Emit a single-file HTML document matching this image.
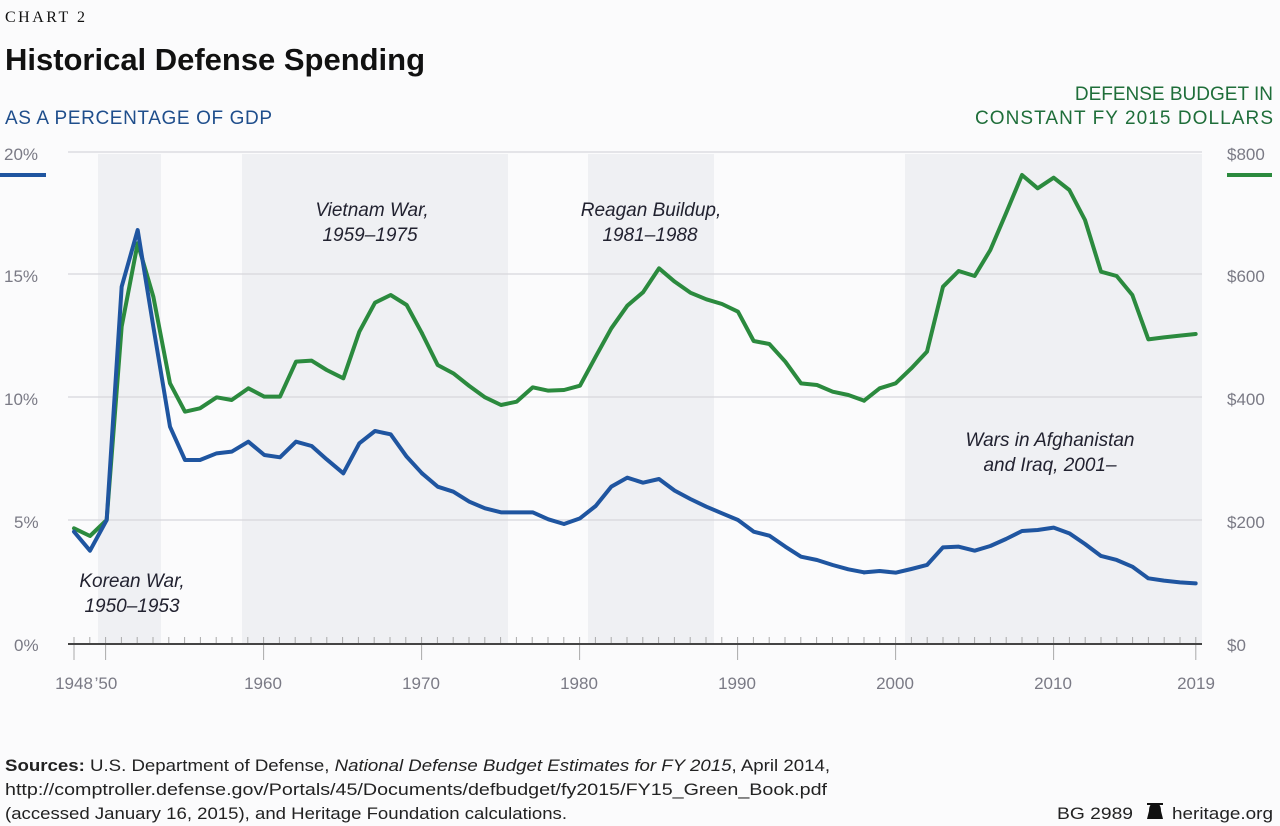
<!DOCTYPE html>
<html><head><meta charset="utf-8"><style>
html,body{margin:0;padding:0;background:#fbfbfc;}
svg{display:block}
</style></head><body>
<svg width="1280" height="826" viewBox="0 0 1280 826" xmlns="http://www.w3.org/2000/svg" font-family="Liberation Sans, sans-serif">
<rect width="1280" height="826" fill="#fbfbfc"/>
<g fill="#eff0f3">
<rect x="98" y="154" width="63" height="489"/>
<rect x="242" y="154" width="266" height="489"/>
<rect x="588" y="154" width="126" height="489"/>
<rect x="905" y="154" width="297" height="489"/>
</g>
<g stroke="#d6d7dc" stroke-width="1.3">
<line x1="68" y1="152" x2="1202" y2="152"/>
<line x1="68" y1="274" x2="1202" y2="274"/>
<line x1="68" y1="397" x2="1202" y2="397"/>
<line x1="68" y1="520" x2="1202" y2="520"/>
</g>
<g stroke="#aaa" stroke-width="1">
<path d="M74 637V643M89.8 637V643M105.6 637V643M121.4 637V643M137.2 637V643M153 637V643M168.8 637V643M184.6 637V643M200.4 637V643M216.2 637V643M232 637V643M247.8 637V643M263.6 637V643M279.4 637V643M295.2 637V643M311 637V643M326.8 637V643M342.6 637V643M358.4 637V643M374.2 637V643M390 637V643M405.8 637V643M421.6 637V643M437.4 637V643M453.2 637V643M469 637V643M484.8 637V643M500.6 637V643M516.4 637V643M532.2 637V643M548 637V643M563.8 637V643M579.6 637V643M595.4 637V643M611.2 637V643M627 637V643M642.8 637V643M658.6 637V643M674.4 637V643M690.2 637V643M706 637V643M721.8 637V643M737.6 637V643M753.4 637V643M769.2 637V643M785 637V643M800.8 637V643M816.6 637V643M832.4 637V643M848.2 637V643M864 637V643M879.8 637V643M895.6 637V643M911.4 637V643M927.2 637V643M943 637V643M958.8 637V643M974.6 637V643M990.4 637V643M1006.2 637V643M1022 637V643M1037.8 637V643M1053.6 637V643M1069.4 637V643M1085.2 637V643M1101 637V643M1116.8 637V643M1132.6 637V643M1148.4 637V643M1164.2 637V643M1180 637V643M1195.8 637V643"/>
<path d="M74 643V660M105.6 643V660M263.6 643V660M421.6 643V660M579.6 643V660M737.6 643V660M895.6 643V660M1053.6 643V660M1195.8 643V660"/>
</g>
<line x1="68" y1="644" x2="1202" y2="644" stroke="#444" stroke-width="2"/>
<g fill="none" stroke-width="12" stroke-linejoin="round" stroke-linecap="round">
<g transform="translate(0,140) scale(0.33333)">
<polyline stroke="#2b8a3e" points="222,1165 270,1188 320,1140 365,560 413,310 460,470 510,730 555,815 600,805 650,772 695,780 745,745 793,770 840,770 888,665 935,662 980,690 1030,715 1078,575 1125,488 1172,465 1220,495 1266,580"/>
<polyline stroke="#1f55a0" points="222,1175 270,1232 320,1140 365,440 413,270 460,560 510,860 555,960 600,960 650,940 695,935 745,905 793,945 840,952 888,905 935,918 980,958 1030,1000 1078,910 1125,873 1172,883 1220,950 1266,1000"/>
</g>
<g transform="translate(420,140) scale(0.33333)">
<polyline stroke="#2b8a3e" points="6,580 53,675 100,700 148,738 195,772 243,795 290,785 338,742 385,752 432,750 480,737 527,650 574,565 622,497 669,457 717,385 764,425 811,458 859,478 906,492 954,515 1001,603 1048,612 1096,665 1143,730 1191,735 1238,755 1285,765 1332,782"/>
<polyline stroke="#1f55a0" points="6,1000 53,1040 100,1055 148,1085 195,1105 243,1117 290,1117 338,1117 385,1138 432,1152 480,1135 527,1098 574,1040 622,1013 669,1028 717,1017 764,1052 811,1077 859,1100 906,1120 954,1140 1001,1175 1048,1187 1096,1220 1143,1250 1191,1260 1238,1275 1285,1288 1332,1297"/>
</g>
<g transform="translate(850,140) scale(0.33333)">
<polyline stroke="#2b8a3e" points="42,782 89,745 137,730 184,685 231,635 279,440 326,393 374,408 421,330 468,220 516,105 563,145 611,113 658,150 705,240 753,395 800,408 847,465 895,598 942,592 990,587 1037,582"/>
<polyline stroke="#1f55a0" points="42,1297 89,1293 137,1298 184,1287 231,1275 279,1222 326,1220 374,1232 421,1218 468,1197 516,1173 563,1170 611,1163 658,1180 705,1212 753,1248 800,1260 847,1280 895,1315 942,1322 990,1327 1037,1330"/>
</g>
</g>
<g fill="#7a7a85" font-size="17">
<text x="4" y="160">20%</text>
<text x="4" y="282">15%</text>
<text x="4" y="405">10%</text>
<text x="14" y="528">5%</text>
<text x="14" y="651">0%</text>
<text x="1227" y="160">$800</text>
<text x="1227" y="282">$600</text>
<text x="1227" y="405">$400</text>
<text x="1227" y="528">$200</text>
<text x="1227" y="651">$0</text>
<text x="74" y="689" text-anchor="middle">1948</text>
<text x="106" y="689" text-anchor="middle">’50</text>
<text x="263" y="689" text-anchor="middle">1960</text>
<text x="421" y="689" text-anchor="middle">1970</text>
<text x="579" y="689" text-anchor="middle">1980</text>
<text x="737" y="689" text-anchor="middle">1990</text>
<text x="895" y="689" text-anchor="middle">2000</text>
<text x="1053" y="689" text-anchor="middle">2010</text>
<text x="1196" y="689" text-anchor="middle">2019</text>
</g>
<line x1="0" y1="175" x2="46" y2="175" stroke="#1f55a0" stroke-width="4"/>
<line x1="1227" y1="175" x2="1272" y2="175" stroke="#2b8a3e" stroke-width="4"/>
<g fill="#222230" font-size="19" font-style="italic" text-anchor="middle">
<text x="372" y="216">Vietnam War,</text>
<text x="370" y="241">1959–1975</text>
<text x="651" y="216">Reagan Buildup,</text>
<text x="650" y="241">1981–1988</text>
<text x="132" y="587">Korean War,</text>
<text x="132" y="612">1950–1953</text>
<text x="1050" y="446">Wars in Afghanistan</text>
<text x="1050" y="471">and Iraq, 2001–</text>
</g>
<text x="5" y="22" font-family="Liberation Serif, serif" font-size="16" fill="#111" textLength="80">CHART 2</text>
<text x="5" y="70" font-size="31" font-weight="bold" fill="#111" textLength="420">Historical Defense Spending</text>
<text x="5" y="124" font-size="19" fill="#1f4e8c" textLength="267">AS A PERCENTAGE OF GDP</text>
<text x="1273" y="100" font-size="19" fill="#1f6e3a" text-anchor="end">DEFENSE BUDGET IN</text>
<text x="1273" y="124" font-size="19" fill="#1f6e3a" text-anchor="end" textLength="298">CONSTANT FY 2015 DOLLARS</text>
<g font-family="Liberation Sans Narrow, Liberation Sans, sans-serif" font-size="17" fill="#222">
<text x="5" y="771" textLength="825" lengthAdjust="spacingAndGlyphs"><tspan font-weight="bold">Sources:</tspan> U.S. Department of Defense, <tspan font-style="italic">National Defense Budget Estimates for FY 2015</tspan>, April 2014,</text>
<text x="5" y="795" textLength="822" lengthAdjust="spacingAndGlyphs">http://comptroller.defense.gov/Portals/45/Documents/defbudget/fy2015/FY15_Green_Book.pdf</text>
<text x="5" y="819" textLength="562" lengthAdjust="spacingAndGlyphs">(accessed January 16, 2015), and Heritage Foundation calculations.</text>
<text x="1057" y="819" textLength="76" lengthAdjust="spacingAndGlyphs">BG 2989</text>
<text x="1172" y="819" textLength="101" lengthAdjust="spacingAndGlyphs">heritage.org</text>
</g>
<path d="M1147 819 L1149 811 Q1149 803 1155 803 Q1161 803 1161 811 L1163 819 Z M1147 803 H1163 V805 H1147Z" fill="#111"/>
</svg>
</body></html>
